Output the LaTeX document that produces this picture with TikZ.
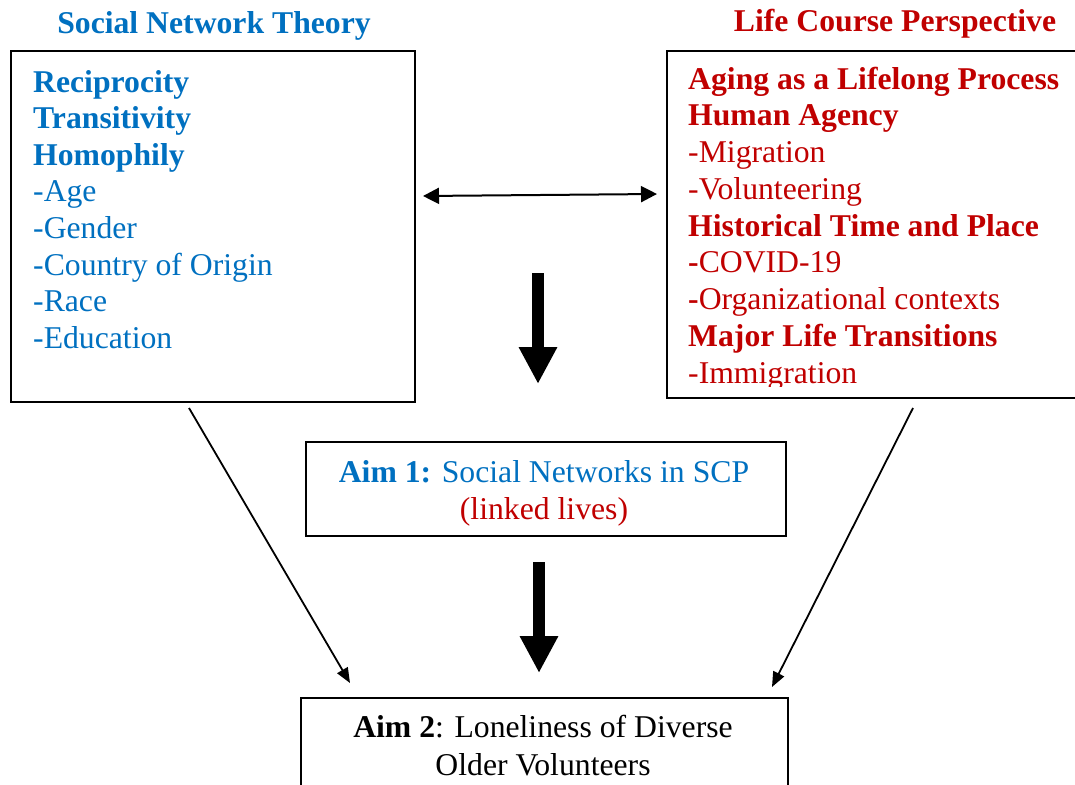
\documentclass[tikz,border=0pt]{standalone}
\usepackage{fontspec}
\setmainfont{Liberation Serif}
\usetikzlibrary{arrows.meta}
\definecolor{snblue}{HTML}{0070C0}
\definecolor{lcred}{HTML}{C00000}
\newcommand{\fsz}{\fontsize{31.7}{37}\selectfont}
\begin{document}
\begin{tikzpicture}[x=1pt,y=-1pt,
  every node/.style={inner sep=0pt,font=\fsz},
  frame/.style={draw=black,line width=2.4pt},
  ln/.style={anchor=base west},
  bln/.style={anchor=base west,font=\fsz\bfseries},
  ctr/.style={anchor=base},
  bigarrow/.style={line width=12pt,-{Triangle[width=36pt,length=37pt]}},
  thinarrow/.style={line width=1.8pt,-{Triangle[width=12pt,length=15pt]}},
  dblarrow/.style={line width=2pt,{Triangle[width=16pt,length=16pt]}-{Triangle[width=16pt,length=16pt]}}]
\useasboundingbox (0,0) rectangle (1075,784);
% boxes
\node[frame,minimum width=404pt,minimum height=351pt,anchor=north west] (snt) at (10,50) {};
\node[frame,minimum width=420pt,minimum height=347pt,anchor=north west] (lcp) at (666,50) {};
\node[frame,minimum width=480pt,minimum height=94pt,anchor=north west] (aim1) at (305,441) {};
\node[frame,minimum width=487pt,minimum height=120pt,anchor=north west] (aim2) at (300,697) {};
% titles
\node[ctr,text=snblue,font=\fsz\bfseries] (t1) at (214,34) {Social Network Theory};
\node[ctr,text=lcred,font=\fsz\bfseries] (t2) at (895,32) {Life Course Perspective};
% left text
\begin{scope}[text=snblue]
\node[bln] (l1) at (33,92) {Reciprocity};
\node[bln] (l2) at (33,128.6) {Transitivity};
\node[bln] (l3) at (33,165.2) {Homophily};
\node[ln] (l4) at (33,201.8) {-Age};
\node[ln] (l5) at (33,238.4) {-Gender};
\node[ln] (l6) at (33,275) {-Country of Origin};
\node[ln] (l7) at (33,311.6) {-Race};
\node[ln] (l8) at (33,348.2) {-Education};
\end{scope}
% right text
\begin{scope}
\clip (667,51) rectangle (1075,386);
\begin{scope}[text=lcred]
\node[bln] (r1) at (688,89) {Aging as a Lifelong Process};
\node[bln] (r2) at (688,125.75) {Human Agency};
\node[ln] (r3) at (688,162.5) {-Migration};
\node[ln] (r4) at (688,199.25) {-Volunteering};
\node[bln] (r5) at (688,236) {Historical Time and Place};
\node[ln] (r6) at (688,272.75) {\textbf{-}COVID-19};
\node[ln] (r7) at (688,309.5) {\textbf{-}Organizational contexts};
\node[bln] (r8) at (688,346.25) {Major Life Transitions};
\node[ln] (r9) at (688,383) {-Immigration};
\end{scope}
\end{scope}
% aim texts
\node[ctr,text=snblue] (a1) at (544,482) {\textbf{Aim 1:} Social Networks in SCP};
\node[ctr,text=lcred] (a1b) at (544,519) {(linked lives)};
\node[ctr] (a2) at (543,737) {\textbf{Aim 2}: Loneliness of Diverse};
\node[ctr] (a2b) at (543,775) {Older Volunteers};
% connectors
\coordinate (dl) at (423,196);
\coordinate (dr) at (657,194);
\draw[dblarrow] (dl) -- (dr);
\coordinate (b1s) at (538,273);
\coordinate (b1e) at (538,384);
\draw[bigarrow] (b1s) -- (b1e);
\coordinate (b2s) at (539,562);
\coordinate (b2e) at (539,673);
\draw[bigarrow] (b2s) -- (b2e);
\coordinate (ls) at (189,408);
\coordinate (le) at (350,683);
\draw[thinarrow] (ls) -- (le);
\coordinate (rs) at (913,408);
\coordinate (re) at (772,687);
\draw[thinarrow] (rs) -- (re);
\end{tikzpicture}
\end{document}
